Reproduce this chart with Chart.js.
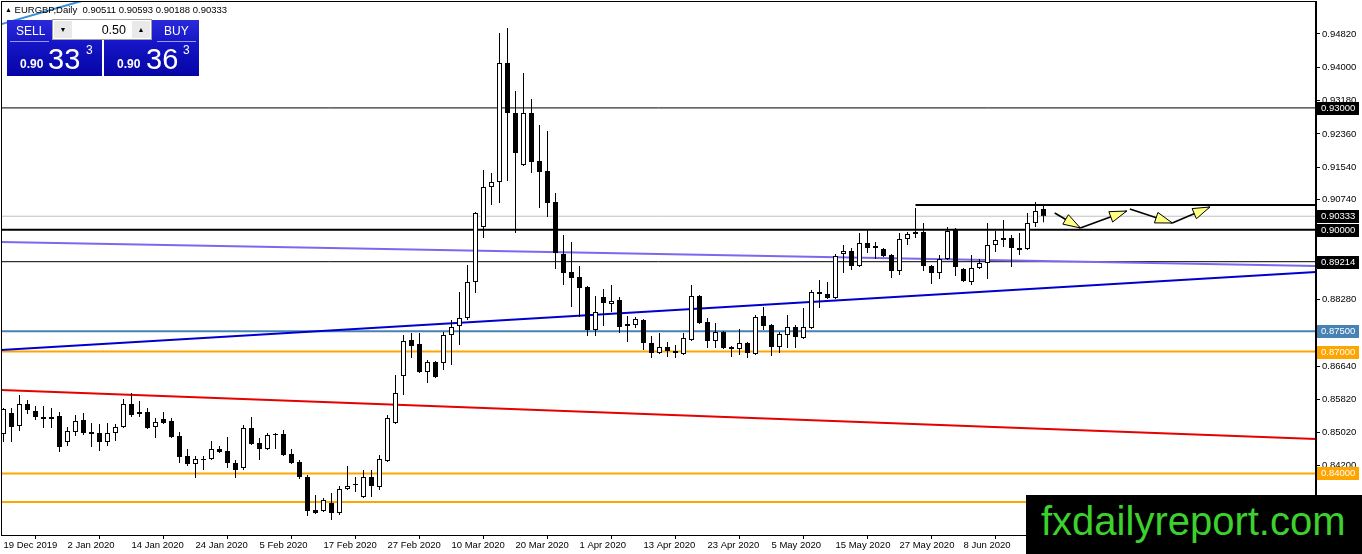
<!DOCTYPE html>
<html><head><meta charset="utf-8">
<script src="https://cdn.jsdelivr.net/npm/chart.js@4.4.1/dist/chart.umd.min.js"></script>
<style>
html,body{margin:0;padding:0;background:#fff;}
#wrap{position:relative;width:1362px;height:554px;overflow:hidden;font-family:"Liberation Sans",Arial,sans-serif;}
#c{position:absolute;left:0;top:0;}
.hdr{position:absolute;left:5px;top:4px;font-size:9.5px;line-height:12px;color:#000;white-space:pre;}
.hdr .tri{font-size:7px;vertical-align:1px;}
.panel{position:absolute;top:20px;width:95px;height:56px;background:linear-gradient(#2a2ada,#1414c4 45%,#0505a6);}
.btnlbl{position:absolute;top:24px;font-size:12px;line-height:14px;color:#fff;}
.sep{position:absolute;top:41px;height:1px;background:#9a9af0;}
.p{position:absolute;color:#fff;white-space:nowrap;line-height:1;}
.small{font-size:12px;font-weight:bold;top:58px;}
.big{font-size:29px;top:45px;}
.sup{font-size:12px;top:44px;}
.spin{position:absolute;left:52px;top:19px;width:100px;height:21px;background:#fff;border:1px solid #a0a0a0;box-sizing:border-box;}
.sb{position:absolute;top:1px;width:18px;height:17px;background:#e9e9e9;font-size:7px;line-height:17px;text-align:center;color:#000;}
.val{position:absolute;right:25px;top:2px;font-size:12.5px;line-height:16px;color:#000;}
.logo{position:absolute;left:1026px;top:495px;width:336px;height:59px;background:#000;}
.logo span{position:absolute;left:15px;top:6px;font-size:40px;line-height:40px;color:#3cd12e;white-space:nowrap;}
</style></head><body>
<div id="wrap">
<canvas id="c" width="1362" height="554"></canvas>
<div class="hdr"><span class="tri">▲</span> EURGBP,Daily  0.90511 0.90593 0.90188 0.90333</div>
<div class="panel" style="left:7px"></div>
<div class="panel" style="left:104px"></div>
<div class="btnlbl" style="left:16px">SELL</div>
<div class="btnlbl" style="left:164px">BUY</div>
<div class="sep" style="left:10px;width:39px"></div>
<div class="sep" style="left:157px;width:39px"></div>
<div class="spin"><div class="sb" style="left:1px">▼</div><div class="val">0.50</div><div class="sb" style="right:1px">▲</div></div>
<div class="p small" style="left:20px">0.90</div>
<div class="p big" style="left:48px">33</div>
<div class="p sup" style="left:86px">3</div>
<div class="p small" style="left:117px">0.90</div>
<div class="p big" style="left:146px">36</div>
<div class="p sup" style="left:183px">3</div>
<div class="logo"><span>fxdailyreport.com</span></div>
</div>
<script>
// ---- axis labels ----
const dateLabels = ["19 Dec 2019","2 Jan 2020","14 Jan 2020","24 Jan 2020","5 Feb 2020","17 Feb 2020","27 Feb 2020","10 Mar 2020","20 Mar 2020","1 Apr 2020","13 Apr 2020","23 Apr 2020","5 May 2020","15 May 2020","27 May 2020","8 Jun 2020"];
const dateLabelBars = [0,8,16,24,32,40,48,56,64,72,80,88,96,104,112,120];
const priceTicks = [0.9482,0.94,0.9318,0.9236,0.9154,0.9074,0.8992,0.891,0.8828,0.8746,0.8664,0.8582,0.8502,0.842,0.8338];

// ---- EURGBP daily candles ----
const opens = [0.84972,0.85489,0.85169,0.85711,0.85538,0.85390,0.85390,0.85415,0.84775,0.85021,
0.85317,0.85021,0.84997,0.84775,0.84997,0.85144,0.85711,0.85464,0.85514,0.85144,
0.85341,0.85292,0.84923,0.84430,0.84233,0.84357,0.84357,0.84603,0.84553,0.84258,
0.84135,0.85120,0.84750,0.84603,0.84972,0.84972,0.84480,0.84283,0.83913,0.83101,
0.83076,0.83273,0.83027,0.83618,0.83741,0.83421,0.83913,0.83667,0.84307,0.85243,
0.86400,0.87286,0.87188,0.86498,0.86745,0.86720,0.87409,0.87631,0.87828,0.88714,
0.90068,0.91053,0.91176,0.94106,0.92875,0.91595,0.92875,0.91693,0.91447,0.90684,
0.89404,0.88960,0.88837,0.88591,0.87532,0.88345,0.88173,0.88271,0.87680,0.87656,
0.87779,0.87212,0.86966,0.87114,0.87015,0.86942,0.87286,0.88370,0.87730,0.87262,
0.87483,0.87114,0.87064,0.87212,0.86942,0.87877,0.87656,0.87114,0.87409,0.87606,
0.87335,0.87582,0.88468,0.88419,0.88321,0.89404,0.89477,0.89108,0.89674,0.89551,
0.89527,0.89379,0.88985,0.89773,0.89945,0.89945,0.89108,0.88936,0.89280,0.90019,
0.89034,0.88714,0.89059,0.89182,0.89625,0.89748,0.89797,0.89551,0.89527,0.90167,
0.90511];
const highs = [0.85612,0.85612,0.85932,0.85809,0.85661,0.85661,0.85612,0.85514,0.85144,0.85440,
0.85489,0.85243,0.85218,0.85243,0.85218,0.85834,0.85981,0.85784,0.85612,0.85366,
0.85514,0.85366,0.85021,0.84603,0.84430,0.84430,0.84800,0.84677,0.84898,0.84332,
0.85194,0.85390,0.84874,0.84997,0.84997,0.85070,0.84603,0.84332,0.83963,0.83470,
0.83397,0.83520,0.83692,0.84184,0.83913,0.84086,0.84086,0.84455,0.85440,0.86424,
0.87409,0.87458,0.87458,0.86794,0.86770,0.87483,0.87779,0.88468,0.89133,0.90438,
0.91472,0.91398,0.94845,0.94968,0.93417,0.93860,0.93220,0.92580,0.92432,0.90905,
0.89871,0.89699,0.89108,0.88616,0.88370,0.88542,0.88640,0.88345,0.87877,0.87853,
0.87804,0.87385,0.87458,0.87237,0.87163,0.87458,0.88640,0.88395,0.87828,0.87705,
0.87508,0.87138,0.87557,0.87237,0.87902,0.88099,0.87680,0.87483,0.87902,0.87656,
0.88074,0.88517,0.88764,0.88714,0.89404,0.89625,0.89551,0.89920,0.89994,0.89699,
0.89551,0.89404,0.89920,0.89945,0.90536,0.90167,0.89133,0.89379,0.90068,0.90044,
0.89059,0.89379,0.89280,0.90167,0.89970,0.90241,0.89871,0.89920,0.90413,0.90684,
0.90593];
const lows = [0.84775,0.84775,0.85046,0.85464,0.85317,0.85120,0.85120,0.84529,0.84677,0.84923,
0.84947,0.84652,0.84553,0.84677,0.84800,0.85120,0.85390,0.85390,0.85095,0.84874,
0.85218,0.84874,0.84258,0.84184,0.83889,0.84086,0.84332,0.84504,0.84135,0.83889,
0.84086,0.84701,0.84332,0.84578,0.84603,0.84430,0.84233,0.83864,0.82953,0.83003,
0.83052,0.82855,0.82978,0.83593,0.83544,0.83397,0.83421,0.83593,0.84283,0.85218,
0.85932,0.86843,0.86474,0.86228,0.86351,0.86548,0.86671,0.87163,0.87779,0.88443,
0.89797,0.90610,0.90659,0.91201,0.89921,0.91570,0.91398,0.90536,0.90315,0.89034,
0.88640,0.88099,0.87853,0.87385,0.87385,0.87631,0.87976,0.87458,0.87237,0.87582,
0.87040,0.86843,0.86942,0.86868,0.86843,0.86917,0.87262,0.87680,0.87089,0.87089,
0.87064,0.86868,0.86917,0.86843,0.86917,0.87532,0.86892,0.86966,0.87089,0.87089,
0.87311,0.87557,0.88074,0.88296,0.88296,0.88936,0.89010,0.89084,0.89428,0.89280,
0.89330,0.88813,0.88887,0.89625,0.89797,0.88985,0.88665,0.88788,0.89256,0.88862,
0.88714,0.88640,0.89034,0.88788,0.89453,0.89576,0.89084,0.89379,0.89502,0.90068,
0.90188];
const closes = [0.85587,0.85144,0.85711,0.85563,0.85390,0.85341,0.85341,0.84652,0.85046,0.85292,
0.84997,0.84972,0.84775,0.84997,0.85144,0.85711,0.85440,0.85514,0.85120,0.85267,
0.85243,0.84898,0.84406,0.84233,0.84357,0.84332,0.84603,0.84529,0.84258,0.84086,
0.85120,0.84726,0.84603,0.84947,0.84947,0.84455,0.84258,0.83913,0.83076,0.83027,
0.83347,0.83027,0.83618,0.83692,0.83717,0.83913,0.83692,0.84357,0.85366,0.85981,
0.87262,0.87138,0.86498,0.86745,0.86375,0.87409,0.87606,0.87828,0.88714,0.90413,
0.91053,0.91176,0.94106,0.92875,0.91890,0.92875,0.91669,0.91423,0.90659,0.89428,
0.88936,0.88813,0.88566,0.87532,0.87976,0.88197,0.88247,0.87606,0.87631,0.87804,
0.87212,0.86966,0.87114,0.87015,0.86966,0.87335,0.88370,0.87705,0.87262,0.87483,
0.87089,0.87064,0.87212,0.86966,0.87853,0.87631,0.87114,0.87434,0.87606,0.87360,
0.87606,0.88468,0.88419,0.88321,0.89354,0.89477,0.89108,0.89674,0.89551,0.89600,
0.89354,0.88985,0.89773,0.89896,0.89896,0.89108,0.88936,0.89280,0.89970,0.89084,
0.88739,0.89059,0.89182,0.89625,0.89748,0.89797,0.89551,0.89502,0.90167,0.90462,
0.90333];

// ---- drawn objects (prices) ----
const levelPrices = [0.93, 0.90333, 0.90, 0.89214, 0.875, 0.87, 0.84, 0.8330];
const levelNames  = ["res93","current","round90","sup","blue875","orange87","orange84","orange833"];
const resistanceBars = [114, 164.06];
const resistancePrice = 0.9061;
const purpleTrend = [0.89699, 0.89108];
const blueTrend   = [0.87040, 0.88961];
const redTrend    = [0.86055, 0.84849];
const cyanTrendBars = [-0.4, 10.2];
const cyanTrend   = [0.95056, 0.95657];
const arrowBars   = [[131.4,134.6],[134.6,140.4],[140.8,146.1],[146.1,150.8]];
const arrowPrices = [[0.90413,0.90044],[0.90044,0.90462],[0.90511,0.90167],[0.90167,0.90561]];

// ---- chart ----
const X_MIN = -0.3125, X_MAX = 164.0625;
const Y_MAX = 0.956324, Y_MIN = 0.824852;
const edges = [X_MIN, X_MAX];

const levelStyle = {
  res93:{c:'#000',w:1,tag:'#000'}, current:{c:'#c0c0c0',w:1,tag:'#000'}, round90:{c:'#000',w:2,tag:'#000'},
  sup:{c:'#000',w:1,tag:'#000'}, blue875:{c:'#4682b4',w:2,tag:'#4682b4'}, orange87:{c:'#ffa500',w:2,tag:'#ffa500'},
  orange84:{c:'#ffa500',w:2,tag:'#ffa500'}, orange833:{c:'#ffa500',w:2,tag:'#ffa500'}
};

function lineDs(xs, ys, color, width, extra){
  return Object.assign({type:'line', data: xs.map((x,i)=>({x:x, y:ys[i]})), borderColor:color, borderWidth:width,
    pointRadius:0, pointHoverRadius:0, fill:false, tension:0, order:5}, extra||{});
}

const datasets = [];
datasets.push({type:'bar', label:'wicks', data: highs.map((h,i)=>({x:i, y:[lows[i], h]})),
  backgroundColor:'#000', borderWidth:0, barThickness:1, grouped:false, order:1, inflateAmount:0});
datasets.push({type:'bar', label:'bodies', data: opens.map((o,i)=>({x:i, y:[o, closes[i]]})),
  backgroundColor: opens.map((o,i)=> closes[i] >= o ? '#ffffff' : '#000000'),
  borderColor:'#000', borderWidth:1, borderSkipped:false, barThickness:5, grouped:false, order:0, inflateAmount:0});
levelPrices.forEach((p,i)=>{
  const s = levelStyle[levelNames[i]];
  datasets.push(lineDs(edges, [p,p], s.c, s.w, {order:6}));
});
datasets.push(lineDs(resistanceBars, [resistancePrice, resistancePrice], '#000', 2));
datasets.push(lineDs(edges, purpleTrend, '#7b68ee', 2));
datasets.push(lineDs(edges, blueTrend, '#0000cd', 2));
datasets.push(lineDs(edges, redTrend, '#e60000', 2));
datasets.push(lineDs(cyanTrendBars, cyanTrend, '#3a8fd8', 2));
arrowBars.forEach((xs,i)=> datasets.push(lineDs(xs, arrowPrices[i], '#000', 1.6, {arrow:true, order:-1})));

const fontSpec = {family:'"Liberation Sans", Arial, sans-serif', size:9.5};

const decor = {
  id:'decor',
  afterDatasetsDraw(chart){
    const ctx = chart.ctx;
    chart.data.datasets.forEach((ds,di)=>{
      if(!ds.arrow) return;
      const pts = chart.getDatasetMeta(di).data;
      const a = pts[pts.length-2], b = pts[pts.length-1];
      const ang = Math.atan2(b.y-a.y, b.x-a.x);
      const L = 17, W = 5.5;
      const bx = b.x - L*Math.cos(ang), by = b.y - L*Math.sin(ang);
      const px = -Math.sin(ang)*W, py = Math.cos(ang)*W;
      ctx.save();
      ctx.beginPath();
      ctx.moveTo(b.x, b.y); ctx.lineTo(bx+px, by+py); ctx.lineTo(bx-px, by-py); ctx.closePath();
      ctx.fillStyle = '#ffff80'; ctx.fill();
      ctx.strokeStyle = '#000'; ctx.lineWidth = 1; ctx.stroke();
      ctx.restore();
    });
  },
  afterDraw(chart){
    const ctx = chart.ctx, ca = chart.chartArea, ys = chart.scales.y;
    ctx.save();
    ctx.strokeStyle = '#000'; ctx.lineWidth = 1;
    ctx.strokeRect(ca.left+0.5, ca.top+0.5, ca.right-ca.left-1, ca.bottom-ca.top);
    ctx.font = '9.5px "Liberation Sans", Arial, sans-serif';
    ctx.textBaseline = 'middle';
    levelPrices.forEach((p,i)=>{
      const s = levelStyle[levelNames[i]];
      const y = Math.round(ys.getPixelForValue(p));
      ctx.fillStyle = s.tag;
      ctx.fillRect(ca.right+1, y-6, 42, 13);
      ctx.fillStyle = '#fff';
      ctx.fillText(p.toFixed(5), ca.right+5, y+0.5);
    });
    ctx.restore();
  }
};

new Chart(document.getElementById('c'), {
  type:'bar',
  data:{datasets},
  options:{
    responsive:false, animation:false, devicePixelRatio:1,
    layout:{padding:{left:1, top:1, right:0, bottom:0}},
    plugins:{legend:{display:false}, tooltip:{enabled:false}},
    events:[],
    scales:{
      x:{type:'linear', min:X_MIN, max:X_MAX, offset:false,
        grid:{drawOnChartArea:false, drawTicks:true, tickLength:4, color:'#000'},
        border:{display:true, color:'#000'},
        afterBuildTicks(s){ s.ticks = dateLabelBars.map(v=>({value:v})); },
        afterFit(s){ s.height = 19; s.paddingLeft = 0; s.paddingRight = 0; },
        ticks:{autoSkip:false, maxRotation:0, minRotation:0, align:'start', padding:1, color:'#000', font:fontSpec,
          callback:(v,i)=> dateLabels[i]}
      },
      y:{type:'linear', position:'right', min:Y_MIN, max:Y_MAX,
        grid:{drawOnChartArea:false, drawTicks:true, tickLength:4, color:'#000'},
        border:{display:true, color:'#000'},
        afterBuildTicks(s){ s.ticks = priceTicks.map(v=>({value:v})); },
        afterFit(s){ s.width = 46; s.paddingTop = 0; s.paddingBottom = 0; },
        ticks:{padding:2, color:'#000', font:fontSpec, callback:(v)=> Number(v).toFixed(5)}
      }
    }
  },
  plugins:[decor]
});
</script>
</body></html>
